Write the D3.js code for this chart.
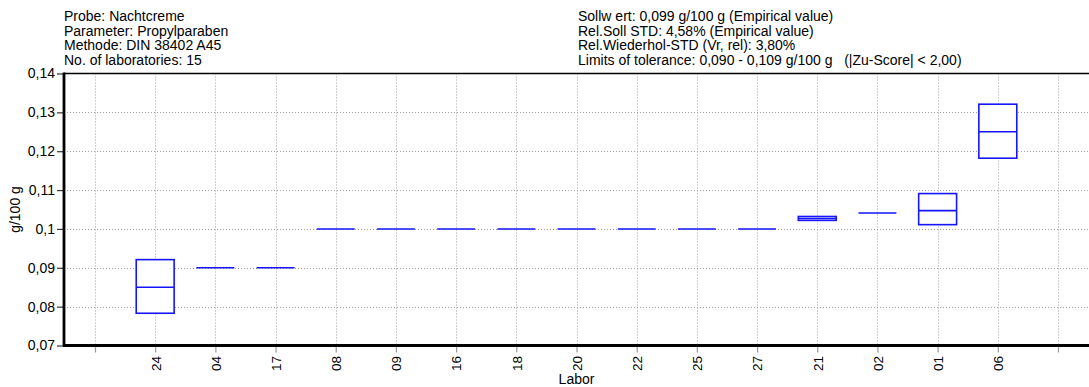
<!DOCTYPE html>
<html><head><meta charset="utf-8">
<script src="https://cdn.jsdelivr.net/npm/d3@7"></script>
<style>
body{margin:0;background:#fff;}
svg text{font-family:"Liberation Sans",Arial,sans-serif;fill:#000;}
</style></head>
<body><svg id="c" width="1089" height="387"></svg>
<script>
const labs = ["24","04","17","08","09","16","18","20","22","25","27","21","02","01","06"];
const q1s  = [0.0783,0.090,0.090,0.100,0.100,0.100,0.100,0.100,0.100,0.100,0.100,0.1022,0.1041,0.1011,0.1182];
const meds = [0.0850,0.090,0.090,0.100,0.100,0.100,0.100,0.100,0.100,0.100,0.100,0.1027,0.1041,0.1047,0.1250];
const q3s  = [0.0921,0.090,0.090,0.100,0.100,0.100,0.100,0.100,0.100,0.100,0.100,0.1032,0.1041,0.1091,0.1321];
const yTicks = [0.07,0.08,0.09,0.10,0.11,0.12,0.13,0.14];
const yTickLabels = ["0,07","0,08","0,09","0,1","0,11","0,12","0,13","0,14"];
const headerLeft = ["Probe: Nachtcreme","Parameter: Propylparaben","Methode: DIN 38402 A45","No. of laboratories: 15"];
const headerRight = ["Sollw ert: 0,099 g/100 g (Empirical value)","Rel.Soll STD: 4,58% (Empirical value)","Rel.Wiederhol-STD (Vr, rel): 3,80%","Limits of tolerance: 0,090 - 0,109 g/100 g   (|Zu-Score| < 2,00)"];
const xTitle = "Labor", yTitle = "g/100 g";

const svg = d3.select("#c");
const L = 64, R = 1089, T = 73.5, B = 345.5;
const x = d3.scaleLinear().domain([-0.515, labs.length + 1 + 0.515]).range([L, R]);
const y = d3.scaleLinear().domain([0.07, 0.14]).range([B, T]);
const tickIdx = d3.range(0, labs.length + 2);

// grid
const grid = svg.append("g").attr("stroke","#a0a0a0").attr("stroke-width",1).attr("stroke-dasharray","1,2");
grid.selectAll("line.v").data(tickIdx).join("line").attr("class","v")
  .attr("x1",d=>Math.round(x(d))+0.5).attr("x2",d=>Math.round(x(d))+0.5).attr("y1",T).attr("y2",B);
grid.selectAll("line.h").data(yTicks.slice(1,-1)).join("line").attr("class","h")
  .attr("x1",L).attr("x2",R).attr("y1",d=>Math.round(y(d))+0.5).attr("y2",d=>Math.round(y(d))+0.5);

// x axis
const xAxis = svg.append("g").attr("transform",`translate(0,${B})`)
  .call(d3.axisBottom(x).tickValues(tickIdx).tickSize(7).tickSizeOuter(0)
    .tickFormat(d => (d>=1 && d<=labs.length) ? labs[d-1] : ""));
xAxis.select(".domain").remove();
xAxis.selectAll(".tick line").attr("stroke","#999").attr("stroke-width",1.2);
xAxis.selectAll(".tick text").attr("transform","rotate(-90)").attr("x",-10.5).attr("y",0)
  .attr("dy","0.36em").style("text-anchor","end").style("font-size","13.5px");

// y axis
const yAxis = svg.append("g").attr("transform",`translate(${L},0)`)
  .call(d3.axisLeft(y).tickValues(yTicks).tickSize(7).tickSizeOuter(0).tickFormat((d,i)=>yTickLabels[i]));
yAxis.select(".domain").remove();
yAxis.selectAll(".tick line").attr("stroke","#333").attr("stroke-width",1.2);
yAxis.selectAll(".tick text").attr("x",-9).style("font-size","14px");

// frame
svg.append("line").attr("x1",L).attr("x2",R).attr("y1",T).attr("y2",T).attr("stroke","#000").attr("stroke-width",1.6);
svg.append("line").attr("x1",L-1).attr("x2",R).attr("y1",B).attr("y2",B).attr("stroke","#000").attr("stroke-width",2.8);
svg.append("line").attr("x1",L).attr("x2",L).attr("y1",T-1).attr("y2",B+1).attr("stroke","#000").attr("stroke-width",2.8);

// boxes
const bw = 0.63;
const boxes = svg.append("g");
labs.forEach((lab,i)=>{
  const cx = i+1, x0 = x(cx-bw/2), x1 = x(cx+bw/2);
  const yt = y(q3s[i]), yb = y(q1s[i]);
  if (yb - yt > 0.5) {
    boxes.append("rect").attr("x",x0).attr("y",yt).attr("width",x1-x0).attr("height",yb-yt)
      .attr("fill","#fff").attr("stroke","#1515ff").attr("stroke-width",1.6);
  }
  boxes.append("line").attr("x1",x0).attr("x2",x1).attr("y1",y(meds[i])).attr("y2",y(meds[i]))
    .attr("stroke","#1515ff").attr("stroke-width",1.6);
});

// titles
svg.append("text").attr("x",(L+R)/2).attr("y",384).attr("text-anchor","middle").style("font-size","14px").text(xTitle);
svg.append("text").attr("transform",`translate(20,${(T+B)/2}) rotate(-90)`).attr("text-anchor","middle")
  .style("font-size","14px").text(yTitle);

// header
const base = [21.3, 35.7, 50.1, 64.5];
svg.append("g").selectAll("text").data(headerLeft).join("text").attr("x",64).attr("y",(d,i)=>base[i])
  .style("font-size","14px").text(d=>d);
svg.append("g").selectAll("text").data(headerRight).join("text").attr("x",578).attr("y",(d,i)=>base[i])
  .style("font-size","14px").attr("xml:space","preserve").style("white-space","pre").text(d=>d);
</script></body></html>
